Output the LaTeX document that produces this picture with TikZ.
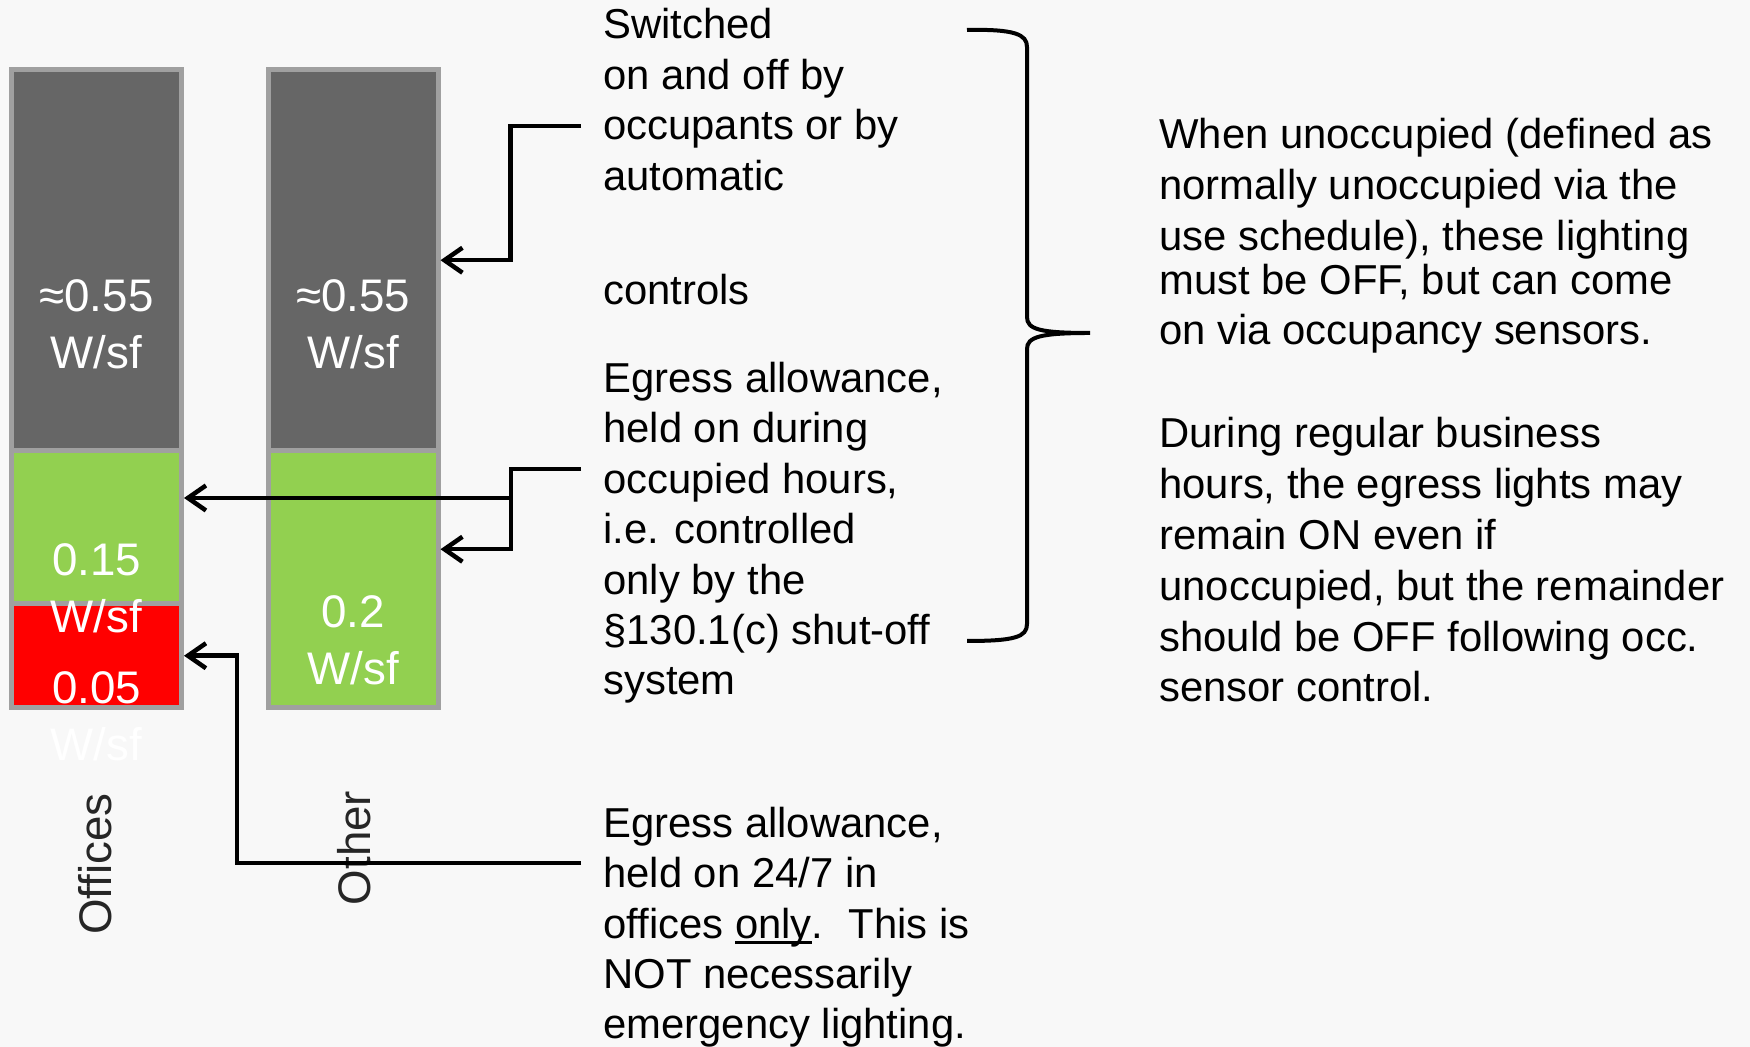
\documentclass[tikz,border=0pt]{standalone}
\usepackage{fontspec}
\setmainfont{Liberation Sans}
\usetikzlibrary{arrows.meta}
\definecolor{bg}{HTML}{F8F8F8}
\definecolor{darkseg}{HTML}{666666}
\definecolor{greenseg}{HTML}{92D050}
\definecolor{redseg}{HTML}{FF0000}
\definecolor{rim}{HTML}{A0A0A0}
\definecolor{ink}{HTML}{262626}
\newcommand{\thickul}[1]{\setbox0\hbox{#1}\rlap{\rule[-0.13em]{\wd0}{0.07em}}\box0}
\begin{document}
\begin{tikzpicture}[
        seg/.style={draw=rim, line width=0.1cm, minimum width=3.4cm, inner sep=0pt},
        val/.style={text=white, align=center, inner sep=0pt, font=\fontsize{26}{32.3}\selectfont},
        barlabel/.style={rotate=90, text=ink, inner sep=0pt, font=\fontsize{26}{32}\selectfont},
        note/.style={anchor=base west, align=left, inner sep=0pt, font=\fontsize{23.8}{28.7}\selectfont},
        arr/.style={line width=0.09cm, -{Straight Barb[length=0.36cm,width=0.5cm]}}
    ]
        \fill[bg] (0,0) rectangle (35,20.94);
        \useasboundingbox (0,0) rectangle (35,20.94);

        \node[seg, fill=darkseg, minimum height=7.63cm] (offdark) at (1.93,15.735) {};
        \node[seg, fill=greenseg, minimum height=3.06cm] (offgreen) at (1.93,10.39) {};
        \node[seg, fill=redseg, minimum height=2.07cm] (offred) at (1.93,7.825) {};
        \node[seg, fill=darkseg, minimum height=7.63cm] (othdark) at (7.06,15.735) {};
        \node[seg, fill=greenseg, minimum height=5.13cm] (othgreen) at (7.06,9.355) {};

        \node[val] (offdarkv) at (1.93,14.46) {≈0.55\\W/sf};
        \node[val] (othdarkv) at (7.06,14.46) {≈0.55\\W/sf};
        \node[val] (offgreenv) at (1.93,9.17) {0.15\\W/sf};
        \node[val] (offredv) at (1.93,6.62) {0.05\\W/sf};
        \node[val] (othgreenv) at (7.06,8.13) {0.2\\W/sf};

        \node[barlabel] (offname) at (1.9,3.66) {Offices};
        \node[barlabel] (othname) at (7.08,3.98) {Other};

        \node[note] (switch) at (12.06,14.84) {Switched\\on and off by\\occupants or by\\automatic\\[1.29cm]controls};
        \node[note] (during) at (12.06,7.04) {Egress allowance,\\held on during\\occupied hours,\\i.e. controlled\\only by the\\§130.1(c) shut-off\\system};
        \node[note] (allday) at (12.06,0.16) {Egress allowance,\\held on 24/7 in\\offices \thickul{only}.\hspace{0.6em}This is\\NOT necessarily\\emergency lighting.};
        \node[note, font=\fontsize{23.8}{29}\selectfont] (unocc) at (23.18,14.04) {When unoccupied (defined as\\normally unoccupied via the\\use schedule), these lighting\\[-0.15cm]must be OFF, but can come\\on via occupancy sensors.};
        \node[note, font=\fontsize{23.8}{29}\selectfont] (business) at (23.18,6.9) {During regular business\\hours, the egress lights may\\remain ON even if\\unoccupied, but the remainder\\should be OFF following occ.\\sensor control.};

        \coordinate (sA) at (11.62,18.42);
        \coordinate (sB) at (11.62,11.56);
        \coordinate (jB) at (10.22,10.98);
        \coordinate (sC) at (11.62,3.68);

        \draw[arr] (sA) -| ([xshift=1.4cm]othdark.east) -- (othdark.east);
        \draw[arr] (sB) -| (jB) |- ([yshift=0.6cm]othgreen.east);
        \draw[arr] (jB) -- (jB -| offgreen.east);
        \draw[arr] (sC) -| ([xshift=1.06cm]offred.east) -- (offred.east);

        \draw[line width=0.08cm] (19.34,20.34) .. controls (20.3,20.36) and (20.54,20.25) .. (20.54,20.0)
            -- (20.54,14.6) .. controls (20.54,14.35) and (20.8,14.28) .. (21.8,14.28)
            .. controls (20.8,14.28) and (20.54,14.2) .. (20.54,13.96)
            -- (20.54,8.46) .. controls (20.54,8.2) and (20.3,8.12) .. (19.34,8.12);
    \end{tikzpicture}
\end{document}
